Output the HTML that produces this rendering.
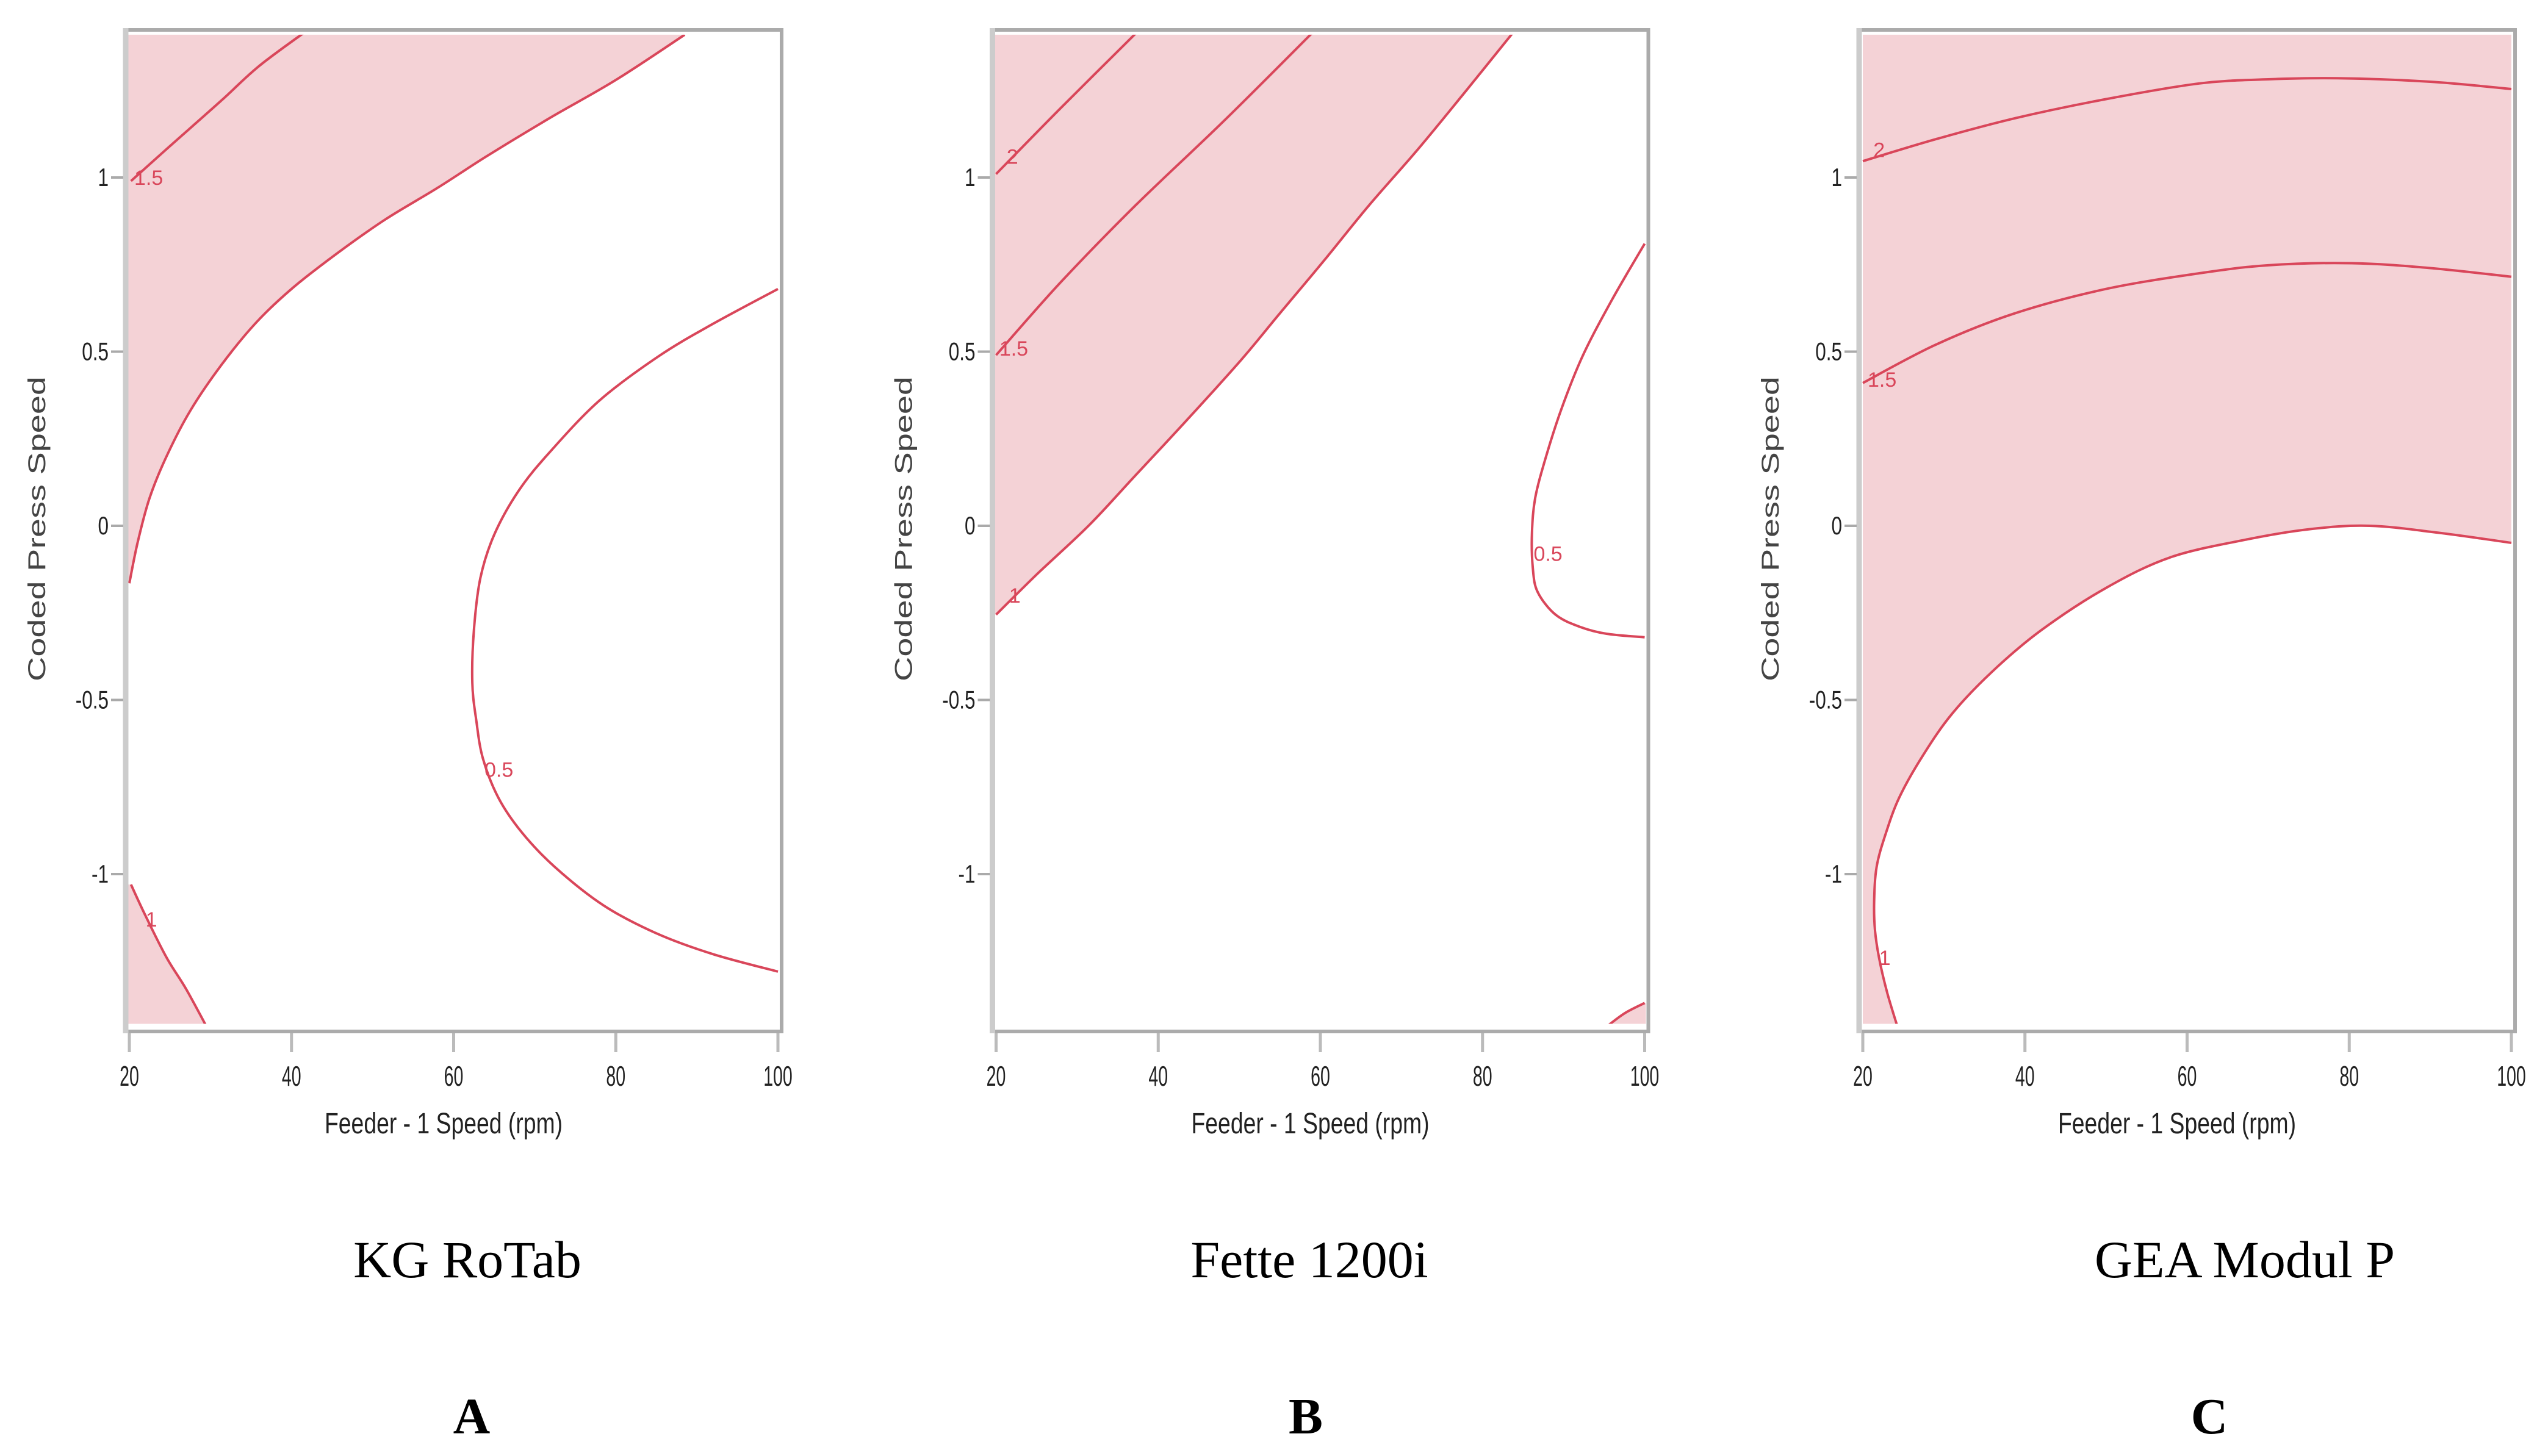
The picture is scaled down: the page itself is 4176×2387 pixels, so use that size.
<!DOCTYPE html>
<html><head><meta charset="utf-8"><style>
html,body{margin:0;padding:0;background:#fff;}
svg{display:block;}
</style></head><body>
<svg id="fig" width="4176" height="2387" viewBox="0 0 4176 2387" xmlns="http://www.w3.org/2000/svg"></svg>
<script>
// ---- data (x: Feeder-1 speed rpm, y: coded press speed) ----
const xTicks = [20, 40, 60, 80, 100];
const yTicks = [1, 0.5, 0, -0.5, -1];
const yTickLabels = ["1", "0.5", "0", "-0.5", "-1"];
const panelTitles = ["KG RoTab", "Fette 1200i", "GEA Modul P"];
const panelLetters = ["A", "B", "C"];

// Panel A contours
const aC15 = [[20.2,0.99],[25,1.09],[31.3,1.22],[36,1.32],[41.8,1.42]];
const aC1up = [[20,-0.165],[21,-0.05],[22.5,0.08],[24.6,0.2],[27.5,0.33],[31.3,0.46],[35.5,0.58],[40,0.68],[45.5,0.78],[51.6,0.88],[58,0.97],[64,1.06],[71.8,1.17],[80,1.28],[88.5,1.41]];
const aC1low = [[20.2,-1.03],[22,-1.12],[24.6,-1.24],[27,-1.33],[29.8,-1.45]];
const aC05 = [[100,0.68],[92,0.58],[85.3,0.487],[78,0.36],[71.8,0.21],[68,0.1],[65,-0.026],[63.3,-0.15],[62.5,-0.30],[62.3,-0.45],[62.8,-0.56],[63.6,-0.667],[65.5,-0.78],[68.4,-0.88],[72.5,-0.98],[78.5,-1.09],[85,-1.17],[92,-1.23],[100,-1.28]];
// Panel B contours
const bC2 = [[20,1.01],[28,1.2],[37.5,1.42]];
const bC15 = [[20,0.49],[28,0.7],[37.2,0.92],[48,1.16],[59.2,1.42]];
const bC1 = [[20,-0.255],[25,-0.14],[31.4,0.0],[37,0.14],[43,0.29],[50,0.47],[55,0.61],[60.4,0.76],[66,0.92],[72,1.08],[78,1.25],[83.9,1.42]];
const bC05 = [[100,0.81],[96,0.65],[92.4,0.49],[89.8,0.34],[87.8,0.196],[86.5,0.08],[86.1,-0.02],[86.2,-0.12],[86.8,-0.19],[89,-0.255],[92,-0.29],[95.3,-0.31],[100,-0.32]];
const bCbr = [[95.2,-1.44],[97.5,-1.40],[100,-1.37]];
// Panel C contours
const cC2 = [[20,1.047],[29,1.11],[38.75,1.17],[50,1.225],[61.5,1.27],[70,1.282],[78.5,1.285],[90,1.275],[100,1.254]];
const cC15 = [[20,0.41],[29,0.52],[38.75,0.61],[50,0.68],[61.5,0.725],[70,0.748],[80.3,0.754],[90,0.74],[100,0.715]];
const cC1 = [[100,-0.049],[91,-0.02],[82.5,0],[75,-0.01],[67.2,-0.04],[58,-0.09],[50.1,-0.177],[42,-0.3],[35.9,-0.42],[31,-0.54],[27.4,-0.66],[24.5,-0.78],[22.8,-0.886],[21.7,-0.98],[21.4,-1.08],[21.5,-1.16],[22,-1.24],[23,-1.34],[24.3,-1.44]];

// contour label positions [x, y, text]
const aLabels = [[20.6,1.0,"1.5"],[22,-1.13,"1"],[63.8,-0.7,"0.5"]];
const bLabels = [[21.3,1.06,"2"],[20.4,0.51,"1.5"],[21.6,-0.2,"1"],[86.3,-0.08,"0.5"]];
const cLabels = [[21.3,1.08,"2"],[20.6,0.42,"1.5"],[22,-1.24,"1"]];

// ---- layout ----
const NS = "http://www.w3.org/2000/svg";
const svg = document.getElementById('fig');
const PANEL_DX = 1420.5;
const X20 = 212, XW = 1063;
const Y0 = 862, YU = 571;
const YMAX = 1.41, YMIN = -1.43;
const LINE = "#d9465a", FILL = "#f4d2d6", FRAME = "#ababab";

function mk(tag, attrs, parent){ const e=document.createElementNS(NS,tag); for(const k in attrs) e.setAttribute(k,attrs[k]); (parent||svg).appendChild(e); return e; }
function sx(p, x){ return p*PANEL_DX + X20 + (x-20)/80*XW; }
function sy(y){ return Y0 - y*YU; }
function smooth(p, arr){
  const P = arr.map(d=>[sx(p,d[0]), sy(d[1])]);
  let d = "M"+P[0][0].toFixed(1)+","+P[0][1].toFixed(1);
  for(let i=0;i<P.length-1;i++){
    const p0=P[Math.max(0,i-1)], p1=P[i], p2=P[i+1], p3=P[Math.min(P.length-1,i+2)];
    const c1=[p1[0]+(p2[0]-p0[0])/6, p1[1]+(p2[1]-p0[1])/6];
    const c2=[p2[0]-(p3[0]-p1[0])/6, p2[1]-(p3[1]-p1[1])/6];
    d += " C"+c1[0].toFixed(1)+","+c1[1].toFixed(1)+" "+c2[0].toFixed(1)+","+c2[1].toFixed(1)+" "+p2[0].toFixed(1)+","+p2[1].toFixed(1);
  }
  return d;
}
function lineTo(p, arr){ return arr.map(d=>" L"+sx(p,d[0]).toFixed(1)+","+sy(d[1]).toFixed(1)).join(""); }

const defs = mk('defs',{});
for(let p=0;p<3;p++){
  const cp = mk('clipPath',{id:'clip'+p},defs);
  mk('rect',{x:sx(p,20)-2,y:sy(YMAX),width:XW+4,height:sy(YMIN)-sy(YMAX)},cp);
}

function drawLine(p, arr, name){
  const l = mk('path',{d:smooth(p,arr),fill:'none',stroke:LINE,'stroke-width':4,'clip-path':'url(#clip'+p+')'});
  
  
}
function drawFill(p, arr, extra, name, color){
  const g = mk('path',{d:smooth(p,arr)+lineTo(p,extra)+" Z",fill:color||FILL,stroke:'none','clip-path':'url(#clip'+p+')'});
  
  
}
function drawLabels(p, arr){
  arr.forEach(d=>{
    const t = mk('text',{x:sx(p,d[0]),y:sy(d[1])+12,fill:'#d9465a','font-size':34,'font-family':'"Liberation Sans", sans-serif'});
    t.textContent = d[2];
    
    
  });
}

for(let p=0;p<3;p++){
  const left = sx(p,20), right = sx(p,100);
  if(p===0){
    drawFill(p, aC1up, [[88.5,1.6],[18,1.6],[18,-0.165]], 'region-above-1');
    drawFill(p, aC1low, [[29.8,-1.6],[18,-1.6],[18,-1.03]], 'region-below-1');
  } else if(p===1){
    drawFill(p, bC1, [[83.9,1.6],[18,1.6],[18,-0.255]], 'region-above-1');
    drawFill(p, bCbr, [[102,-1.37],[102,-1.6],[95.2,-1.6]], 'region-corner');
  } else {
    const bg = mk('rect',{x:sx(p,20),y:sy(YMAX),width:XW,height:sy(YMIN)-sy(YMAX),fill:FILL});
    
    
    drawFill(p, cC1, [[24.3,-1.6],[102,-1.6],[102,-0.049]], 'region-below-1', '#ffffff');
  }
  if(p===0){ drawLine(p,aC15,'contour-1.5'); drawLine(p,aC1up,'contour-1-upper'); drawLine(p,aC1low,'contour-1-lower'); drawLine(p,aC05,'contour-0.5'); drawLabels(p,aLabels); }
  if(p===1){ drawLine(p,bC2,'contour-2'); drawLine(p,bC15,'contour-1.5'); drawLine(p,bC1,'contour-1'); drawLine(p,bC05,'contour-0.5'); drawLine(p,bCbr,'contour-corner'); drawLabels(p,bLabels); }
  if(p===2){ drawLine(p,cC2,'contour-2'); drawLine(p,cC15,'contour-1.5'); drawLine(p,cC1,'contour-1'); drawLabels(p,cLabels); }
  const fr = mk('path',{d:`M${left-5},49 L${right+6},49 L${right+6},1691 L${left-5},1691`,fill:'none',stroke:FRAME,'stroke-width':6});
  
  
  const yl = mk('line',{x1:left-6,y1:46,x2:left-6,y2:1694,stroke:'#cccccc','stroke-width':9});
  
  
  yTicks.forEach((v,i)=>{
    const tk = mk('line',{x1:left-30,y1:sy(v),x2:left-10,y2:sy(v),stroke:'#aaaaaa','stroke-width':4});
    
    
    const tx = left-34;
    const t = mk('text',{x:tx,y:sy(v)+14,'text-anchor':'end','font-size':42,fill:'#222','font-family':'"Liberation Sans", sans-serif',transform:`translate(${tx},0) scale(0.75,1) translate(${-tx},0)`});
    t.textContent = yTickLabels[i];
    
    
  });
  xTicks.forEach(v=>{
    const tk = mk('line',{x1:sx(p,v),y1:1694,x2:sx(p,v),y2:1725,stroke:'#bbbbbb','stroke-width':5});
    
    
    const t = mk('text',{x:sx(p,v),y:1780,'text-anchor':'middle','font-size':46,fill:'#222','font-family':'"Liberation Sans", sans-serif',transform:`translate(${sx(p,v)},0) scale(0.62,1) translate(${-sx(p,v)},0)`});
    t.textContent = String(v);
    
    
  });
  const xc = p*PANEL_DX + 727;
  const xt = mk('text',{x:xc,y:1858,'text-anchor':'middle','font-size':48,fill:'#222','font-family':'"Liberation Sans", sans-serif',textLength:390,lengthAdjust:'spacingAndGlyphs'});
  xt.textContent = 'Feeder - 1 Speed (rpm)';
  
  
  const yx = p*PANEL_DX + 74;
  const yt = mk('text',{x:yx,y:867,'text-anchor':'middle','font-size':40,fill:'#444','font-family':'"Liberation Sans", sans-serif',transform:`rotate(-90 ${yx} 867)`,textLength:500,lengthAdjust:'spacingAndGlyphs'});
  yt.textContent = 'Coded Press Speed';
  
  
  const capX = [766, 2146, 3679][p];
  const cap = mk('text',{x:capX,y:2094,'text-anchor':'middle','font-size':86,fill:'#000','font-family':'"Liberation Serif", serif'});
  cap.textContent = panelTitles[p];
  
  
  const letX = [773, 2140, 3621][p];
  const let_ = mk('text',{x:letX,y:2350,'text-anchor':'middle','font-size':84,'font-weight':'bold',fill:'#000','font-family':'"Liberation Serif", serif'});
  let_.textContent = panelLetters[p];
  
  
}
</script>
</body></html>
